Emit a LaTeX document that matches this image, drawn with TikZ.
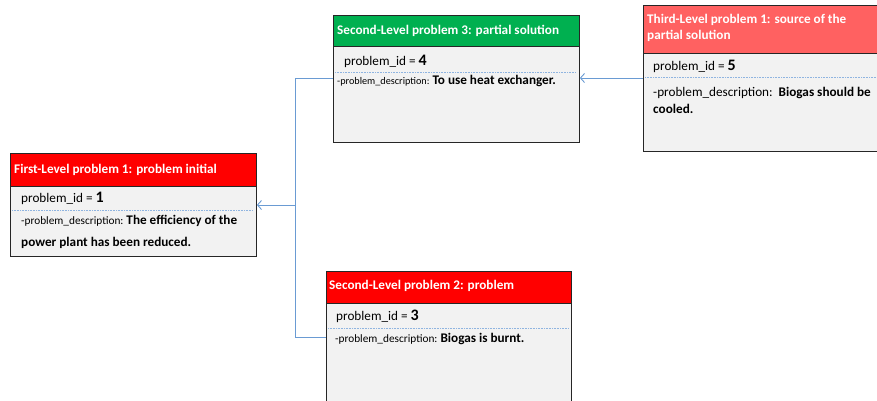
\documentclass[tikz,border=0pt]{standalone}
\usepackage{fontspec}
\setmainfont{Carlito}
\usetikzlibrary{arrows.meta}
\definecolor{hdrred}{HTML}{FF0000}
\definecolor{hdrgreen}{HTML}{00B050}
\definecolor{hdrpink}{HTML}{FF6161}
\definecolor{bodyfill}{HTML}{F2F2F2}
\definecolor{edge}{HTML}{262626}
\definecolor{sepblue}{HTML}{8FB4E0}
\definecolor{conn}{HTML}{6A9BD3}
\tikzset{
  body/.style={draw=edge, line width=0.9pt, fill=bodyfill, anchor=north west, inner sep=0pt},
  hdr/.style={draw=edge, line width=0.9pt, anchor=north west, inner sep=0pt},
  htxt/.style={anchor=west, inner sep=0pt, text=white, font=\fontsize{13.2}{15}\selectfont\bfseries},
  ltxt/.style={anchor=west, inner sep=0pt, font=\fontsize{13.2}{15}\selectfont},
  sep/.style={draw=sepblue, line width=0.7pt, dash pattern=on 0.8pt off 0.8pt},
  wire/.style={draw=conn, line width=0.9pt},
  tip/.style={-{Straight Barb[length=4pt,width=9pt]}}
}
\newcommand{\smallp}[1]{{\fontsize{#1}{10}\selectfont -problem\_description:}}
\newcommand{\idnum}[1]{\textbf{\fontsize{16}{16}\selectfont #1}}
\begin{document}
\begin{tikzpicture}[x=1pt,y=-1pt]
\useasboundingbox (0,0) rectangle (877,400);
\begin{scope}
\clip (0,0) rectangle (877,400);
% Box 1
\node[body, minimum width=246pt, minimum height=103pt] (b1) at (10,153) {};
\node[hdr, fill=hdrred, minimum width=246pt, minimum height=33pt] (h1) at (10,153) {};
\node[htxt] (t1) at (14,170) {First-Level problem 1: problem initial};
\node[ltxt] (i1) at (21,198) {problem\_id = \idnum{1}};
\draw[sep] (12,210) -- (253,210);
\node[ltxt] (d1) at (21,221) {\smallp{11.3}\ \textbf{The efficiency of the}};
\node[ltxt] (e1) at (21,243) {\textbf{power plant has been reduced.}};
% Box 4
\node[body, minimum width=246pt, minimum height=127pt] (b4) at (333,15) {};
\node[hdr, fill=hdrgreen, minimum width=246pt, minimum height=31pt] (h4) at (333,15) {};
\node[htxt] (t4) at (337,31) {Second-Level problem 3: partial solution};
\node[ltxt] (i4) at (344,61) {problem\_id = \idnum{4}};
\draw[sep] (335,72) -- (576,72);
\node[ltxt] (d4) at (337,81) {\smallp{10.2}\ \textbf{To use heat exchanger.}};
% Box 5
\node[body, minimum width=260pt, minimum height=146pt] (b5) at (643,5) {};
\node[hdr, fill=hdrpink, minimum width=260pt, minimum height=48pt] (h5) at (643,5) {};
\node[htxt] (t5) at (647,20) {Third-Level problem 1: source of the};
\node[htxt] (u5) at (647,36) {partial solution};
\node[ltxt] (i5) at (653,66) {problem\_id = \idnum{5}};
\draw[sep] (645,77) -- (877,77);
\node[ltxt] (d5) at (653,93) {-problem\_description:\ \ \textbf{Biogas should be}};
\node[ltxt] (e5) at (653,109) {\textbf{cooled.}};
% Box 3
\node[body, minimum width=245pt, minimum height=140pt] (b3) at (326,271) {};
\node[hdr, fill=hdrred, minimum width=245pt, minimum height=32pt] (h3) at (326,271) {};
\node[htxt] (t3) at (329,286) {Second-Level problem 2: problem};
\node[ltxt] (i3) at (336,316) {problem\_id = \idnum{3}};
\draw[sep] (328,328) -- (569,328);
\node[ltxt] (d3) at (335,339) {\smallp{11.3}\ \textbf{Biogas is burnt.}};
\end{scope}
% connectors
\coordinate (j4) at (295,78);
\coordinate (j3) at (295,337);
\coordinate (jm) at (295,205);
\draw[wire] (b4.west |- j4) -- (j4) -- (j3) -- (b3.west |- j3);
\draw[wire, tip] (jm) -- (b1.east |- jm);
\draw[wire, tip] (b5.west |- j4) -- (b4.east |- j4);
\end{tikzpicture}
\end{document}
